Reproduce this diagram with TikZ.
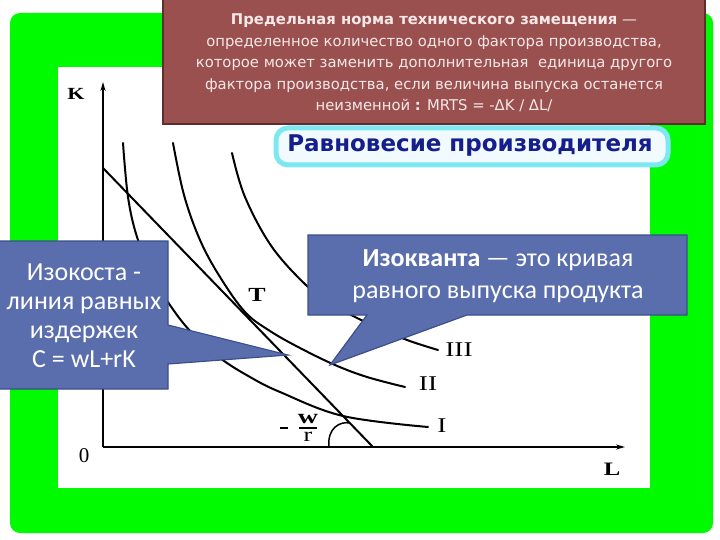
\documentclass[tikz,border=0pt]{standalone}
\usepackage{fontspec}
\usepackage{graphicx}
\setmainfont{Carlito}
\newfontfamily\boxfont{DejaVu Sans}
\newfontfamily\serifplot{Liberation Serif}
\usetikzlibrary{arrows.meta}
\definecolor{frameg}{RGB}{0,250,0}
\definecolor{redbox}{RGB}{155,80,80}
\definecolor{redbord}{RGB}{95,45,45}
\definecolor{redtext}{RGB}{245,232,232}
\definecolor{cyanbord}{RGB}{125,232,240}
\definecolor{titlefill}{RGB}{240,250,255}
\definecolor{titleblue}{RGB}{22,30,140}
\definecolor{callblue}{RGB}{90,110,174}
\definecolor{callbord}{RGB}{60,78,140}
\newcommand{\wideglyph}[1]{\scalebox{1.3}[1]{#1}}
\tikzset{
  axisline/.style={line width=1.8pt, -{Stealth[length=9pt,width=5pt]}},
  curveline/.style={line width=2pt, line cap=round},
  plotlbl/.style={font=\serifplot\fontsize{21}{22}\selectfont, inner sep=0pt},
  boldlbl/.style={font=\serifplot\bfseries\fontsize{19}{22}\selectfont, inner sep=0pt},
  fraclbl/.style={font=\serifplot\fontsize{20}{22}\selectfont, inner sep=0pt},
  callout/.style={fill=callblue, draw=callbord, line width=1.2pt, line join=miter},
  calltext/.style={text=white, align=center, font=\fontsize{26}{29}\selectfont},
}
\begin{document}
\begin{tikzpicture}[x=1pt,y=-1pt]
\useasboundingbox (0,0) rectangle (720,540);
\fill[white] (0,0) rectangle (720,540);
% green frame and white slide
\fill[frameg, rounded corners=10pt] (10,13) rectangle (713,533);
\fill[white] (58,67) rectangle (650,488);
% title banner
\draw[line width=5pt, draw=cyanbord, fill=titlefill, rounded corners=12pt] (276,128) rectangle (668,165);
\node[font=\boxfont\bfseries\fontsize{23}{26}\selectfont, text=titleblue] (title) at (470,146) {Равновесие производителя};
% red definition box
\draw[fill=redbox, draw=redbord, line width=1.5pt] (163,-2) rectangle (705,124);
\node[align=center, text=redtext, font=\boxfont\fontsize{14.8}{21.5}\selectfont] (mrts) at (434,63)
 {\textbf{Предельная норма технического замещения} —\\
  определенное количество одного фактора производства,\\
  которое может заменить дополнительная\ \ единица другого\\
  фактора производства, если величина выпуска останется\\
  неизменной \textbf{:} MRTS = -ΔK / ΔL/};
% axes
\coordinate (O) at (103,447);
\coordinate (Ktop) at (103,82);
\coordinate (Lend) at (625,447);
\draw[axisline] (O) -- (Ktop);
\draw[axisline] (O) -- (Lend);
\node[boldlbl, font=\serifplot\bfseries\fontsize{17}{20}\selectfont] (klbl) at (76,94) {\wideglyph{K}};
\node[plotlbl] (olbl) at (84,456) {0};
\node[boldlbl] (llbl) at (612,469) {\wideglyph{L}};
% isoquants
\draw[curveline] plot[smooth, tension=0.6] coordinates {(123,143) (128,197) (137,237) (153,277) (172,308) (192,333) (220,358) (250,377) (280,392) (343,416) (428,427)};
\draw[curveline] plot[smooth, tension=0.6] coordinates {(173,143) (184,195) (200,240) (220,277) (245,312) (270,331) (300,348) (335,365) (367,377) (405,387)};
\draw[curveline] plot[smooth, tension=0.6] coordinates {(232,153) (245,197) (272,247) (308,287) (330,302) (355,317) (380,328) (407,340) (438,350)};
% isocost
\coordinate (C0) at (103,168);
\coordinate (C1) at (373,447);
\draw[curveline] (C0) -- (C1);
% angle mark
\draw[line width=1.5pt] (329,447) .. controls (327,428) and (340,421) .. (350,423);
% labels
\node[plotlbl] (lI) at (442,426) {\wideglyph{I}};
\node[plotlbl] (lII) at (428,384) {\wideglyph{II}};
\node[plotlbl] (lIII) at (459,350) {\wideglyph{III}};
\node[boldlbl, font=\serifplot\bfseries\fontsize{20}{22}\selectfont] (lT) at (257,295) {\wideglyph{T}};
% slope label  -w/r
\coordinate (mA) at (280,428);
\coordinate (mB) at (288,428);
\coordinate (bA) at (299,428);
\coordinate (bB) at (317,428);
\draw[line width=1.2pt] (mA) -- (mB);
\draw[line width=1.2pt] (bA) -- (bB);
\node[fraclbl, font=\serifplot\bfseries\fontsize{20}{22}\selectfont] (wlbl) at (308,419) {\scalebox{1.4}[1]{w}};
\node[fraclbl] (rlbl) at (308,437) {\scalebox{1.3}[1]{r}};
% callout: isocost
\draw[callout] (-2,241) -- (168,241) -- (168,325) -- (288,355) -- (168,364) -- (168,389) -- (-2,389) -- cycle;
\node[calltext] (iso) at (84,316) {Изокоста -\\линия равных\\издержек\\C = wL+rK};
% callout: isoquant
\draw[callout] (308,235) -- (687,235) -- (687,315) -- (467,315) -- (330,365) -- (367,315) -- (308,315) -- cycle;
\node[calltext, font=\fontsize{26}{32}\selectfont] (isoq) at (498,276) {\textbf{Изокванта} — это кривая\\равного выпуска продукта};
\end{tikzpicture}
\end{document}
